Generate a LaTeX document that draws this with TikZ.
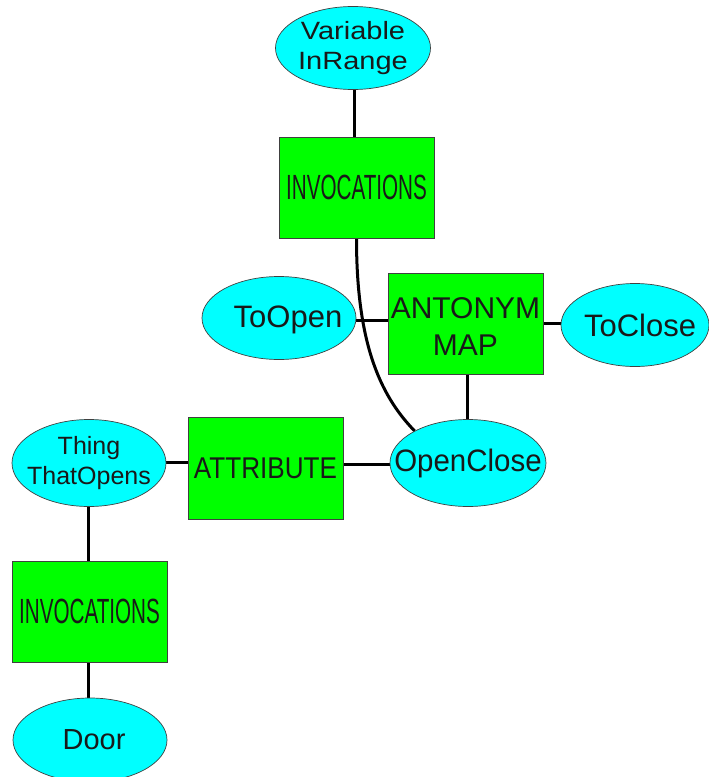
\documentclass[tikz,border=0pt]{standalone}
\usepackage{fontspec}
\setmainfont{Liberation Sans}
\usepackage{graphicx}
\usetikzlibrary{shapes.geometric,backgrounds}
\definecolor{ellcyan}{RGB}{0,255,255}
\definecolor{boxgreen}{RGB}{0,255,0}
\newcommand\myfs[2]{\fontsize{#1}{#2}\selectfont}
\begin{document}
\begin{tikzpicture}[x=1pt,y=-1pt,
  ell/.style={ellipse, draw=black!75, line width=0.7pt, fill=ellcyan, inner sep=0pt},
  lbl/.style={align=center, text=black!90, inner sep=0pt},
  box/.style={rectangle, draw=black!75, line width=0.7pt, fill=boxgreen, inner sep=0pt, align=center, text=black!90,
              minimum width=155, minimum height=101},
  link/.style={line width=3pt, black}]
\useasboundingbox (0,0) rectangle (709,777);
% ellipses
\node[ell, minimum width=155, minimum height=83,
  label={[lbl, font=\myfs{25}{30}]center:\scalebox{1.16}[1]{Variable}\\\scalebox{1.16}[1]{InRange}}] (vir) at (353,48) {};
\node[ell, minimum width=154, minimum height=83,
  label={[lbl, font=\myfs{31}{36}, xshift=9pt, yshift=-2pt]center:ToOpen}] (toopen) at (279,318) {};
\node[ell, minimum width=148, minimum height=83,
  label={[lbl, font=\myfs{31}{36}, xshift=5pt]center:ToClose}] (toclose) at (635,325) {};
\node[ell, minimum width=156, minimum height=87,
  label={[lbl, font=\myfs{31}{36}]center:\scalebox{0.95}[1]{OpenClose}}] (openclose) at (468,463) {};
\node[ell, minimum width=154, minimum height=87,
  label={[lbl, font=\myfs{25}{30}]center:Thing\\ThatOpens}] (thing) at (89,463) {};
\node[ell, minimum width=154, minimum height=84,
  label={[lbl, font=\myfs{29}{34}, xshift=4pt]center:Door}] (door) at (90,740) {};
% boxes
\node[box, font=\myfs{35}{40}] (inv1) at (356.5,187.5) {\scalebox{0.59}[1]{INVOCATIONS}};
\node[box, label={[lbl, font=\myfs{30}{37}, yshift=-3pt]center:ANTONYM\\MAP}] (am) at (465.5,323.5) {};
\node[box, minimum height=102, font=\myfs{30}{36}] (attr) at (265.5,468) {\scalebox{0.87}[1]{ATTRIBUTE}};
\node[box, font=\myfs{35}{40}] (inv2) at (89.5,611.5) {\scalebox{0.59}[1]{INVOCATIONS}};
% connectors
\begin{scope}[on background layer]
\coordinate (v1) at ([xshift=1pt]vir.south);
\draw[link] (v1) -- (v1 |- inv1.north);
\coordinate (i1) at (inv1.south);
\draw[link] (i1) .. controls +(0,102) and +(-36,-37) .. (openclose.149);
\coordinate (t1) at ([yshift=-2pt]toopen.east);
\draw[link] (t1) -- (t1 -| am.west);
\coordinate (a1) at (am.east);
\draw[link] (a1) -- (a1 -| toclose.west);
\coordinate (a2) at ([xshift=1.5pt]am.south);
\draw[link] (a2) -- (a2 |- openclose.north);
\coordinate (o1) at ([yshift=-1pt]openclose.west);
\draw[link] (o1 -| attr.east) -- (o1);
\coordinate (th1) at ([yshift=1pt]thing.east);
\draw[link] (th1) -- (th1 -| attr.west);
\coordinate (th2) at ([xshift=-1pt]thing.south);
\draw[link] (th2) -- (th2 |- inv2.north);
\coordinate (i2) at ([xshift=-1.5pt]inv2.south);
\draw[link] (i2) -- (i2 |- door.north);
\end{scope}
\end{tikzpicture}
\end{document}
